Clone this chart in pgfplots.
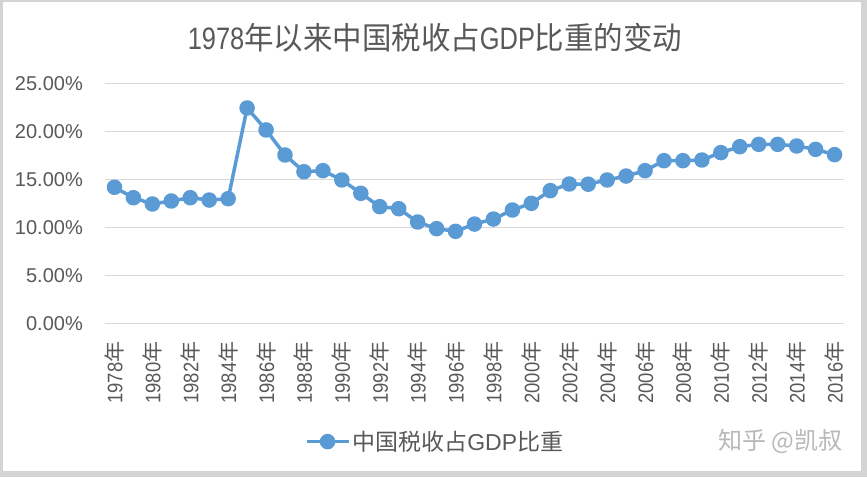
\documentclass[border=0pt]{standalone}
\usepackage{pgfplots}
\pgfplotsset{compat=1.18}
\usepackage{fontspec}
\setmainfont{Liberation Sans}
\newfontfamily\narrowfont{Liberation Sans}[FakeStretch=0.82]
\newfontfamily\tickfont{Liberation Sans}[FakeStretch=0.88]
\newfontfamily\cjk{Noto Sans CJK SC}
\newfontfamily\cjknarrow{Noto Sans CJK SC}[FakeStretch=0.95]
\definecolor{linecol}{HTML}{5B9BD5}
\definecolor{txtgray}{HTML}{595959}
\definecolor{gridgray}{HTML}{D9D9D9}
\definecolor{framegray}{HTML}{D4D4D4}
\begin{document}
\begin{tikzpicture}[x=1pt,y=1pt]
\fill[framegray] (0,0) rectangle (867,477);
\fill[white] (3,6) rectangle (861,475);
\node[text=txtgray, anchor=center] at (435,439) {\fontsize{31}{35}\selectfont\narrowfont 1978{\cjknarrow 年以来中国税收占}GDP{\cjknarrow 比重的变动}};
\node[text=black!28, anchor=east] at (846,35.5) {\fontsize{24}{28}\selectfont\cjk 知乎 @凯叔};
\begin{axis}[
  at={(105pt,153.7pt)}, anchor=south west,
  scale only axis, width=739pt, height=240pt,
  xmin=1977.5, xmax=2016.5, ymin=0, ymax=25,
  axis line style={draw=none},
  ymajorgrids, grid style={draw=gridgray, line width=1pt},
  major tick length=0pt,
  ytick={0,5,10,15,20,25},
  yticklabels={0.00\%,5.00\%,10.00\%,15.00\%,20.00\%,25.00\%},
  yticklabel style={font=\fontsize{20}{24}\selectfont, text=txtgray, anchor=east, inner sep=0pt, xshift=-22pt},
  xtick={1978,1980,...,2016},
  xticklabels={1978{\cjk 年},1980{\cjk 年},1982{\cjk 年},1984{\cjk 年},1986{\cjk 年},1988{\cjk 年},1990{\cjk 年},1992{\cjk 年},1994{\cjk 年},1996{\cjk 年},1998{\cjk 年},2000{\cjk 年},2002{\cjk 年},2004{\cjk 年},2006{\cjk 年},2008{\cjk 年},2010{\cjk 年},2012{\cjk 年},2014{\cjk 年},2016{\cjk 年}},
  xticklabel style={font=\fontsize{21}{25}\selectfont\tickfont, text=txtgray, yshift=-18pt, rotate=90, anchor=east, inner sep=0pt},
  clip=false,
  legend style={at={(0.4465,-0.493)}, anchor=center, draw=none, fill=none,
    font=\fontsize{23}{27}\selectfont, text=txtgray, inner sep=0pt,
    /tikz/every even column/.append style={column sep=0pt}},
  legend cell align=left,
  legend image code/.code={\draw[#1,mark repeat=2,mark phase=2] plot coordinates {(0pt,0pt) (21pt,0pt) (42pt,0pt)};},
]
\addplot[color=linecol, line width=3.5pt, line join=round, mark=*, mark size=6pt, mark options={fill=linecol, draw=none}]
coordinates {
(1978,14.17) (1979,13.08) (1980,12.43) (1981,12.74) (1982,13.08) (1983,12.84) (1984,12.98)
(1985,22.43) (1986,20.14) (1987,17.53) (1988,15.79) (1989,15.90) (1990,14.93) (1991,13.54)
(1992,12.15) (1993,11.94) (1994,10.55) (1995,9.86) (1996,9.58) (1997,10.34) (1998,10.86)
(1999,11.80) (2000,12.50) (2001,13.82) (2002,14.51) (2003,14.49) (2004,14.93) (2005,15.34)
(2006,15.90) (2007,16.94) (2008,16.94) (2009,17.01) (2010,17.78) (2011,18.40) (2012,18.64)
(2013,18.64) (2014,18.47) (2015,18.12) (2016,17.57)
};
\addlegendentry{\cjk 中国税收占{\rmfamily GDP}比重}
\end{axis}
\end{tikzpicture}
\end{document}
